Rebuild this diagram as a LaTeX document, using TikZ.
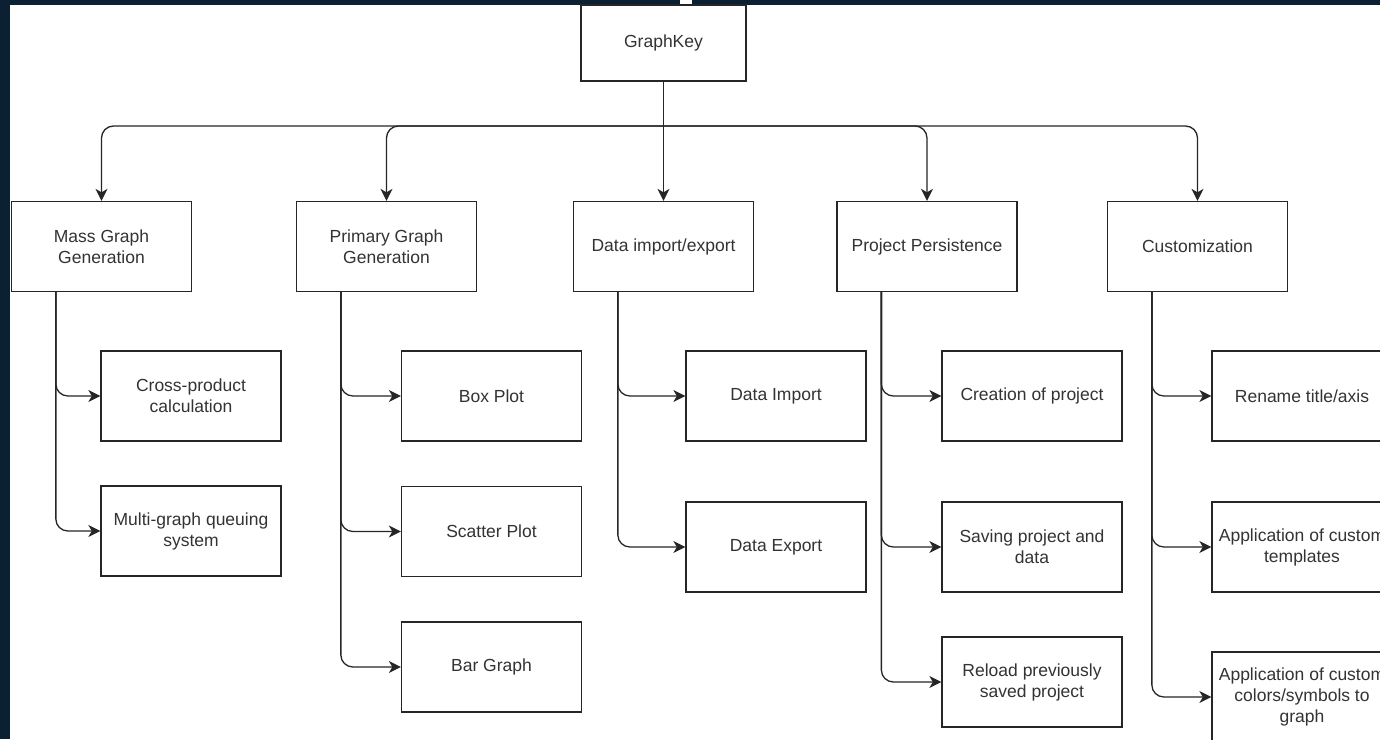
\documentclass[tikz,border=0pt]{standalone}
\usepackage{fontspec}
\setmainfont{Liberation Sans}
\usetikzlibrary{arrows.meta}
\definecolor{navy}{RGB}{11,32,50}
\definecolor{ink}{RGB}{51,51,51}
\tikzset{
	box/.style={draw=black!85, line width=1.3pt, fill=white, minimum width=180pt, minimum height=90pt, inner sep=2pt, align=center, text=ink, font=\fontsize{17.5}{21}\selectfont},
	link/.style={draw=black!85, line width=1.3pt, rounded corners=12pt, -{Stealth[length=12pt,width=12pt,inset=3.5pt]}}
}
\begin{document}
\begin{tikzpicture}[x=1pt,y=-1pt]
		\useasboundingbox (0,0) rectangle (1380,739);
		\fill[navy] (0,0) rectangle (1380,739);
		\fill[white] (10,5) rectangle (1380,739);
		\fill[white] (680,0) rectangle (692,5);
		\clip (0,0) rectangle (1380,739);
		% top level
		\node[box, minimum width=165pt, minimum height=76pt] (key) at (663.5,43) {GraphKey};
		\node[box] (mass) at (101.5,246.5) {Mass Graph\\Generation};
		\node[box] (prim) at (386.5,246.5) {Primary Graph\\Generation};
		\node[box] (data) at (663.5,246.5) {Data import/export};
		\node[box] (proj) at (927,246.5) {Project Persistence};
		\node[box] (cust) at (1197.5,246.5) {Customization};
		\coordinate (hub) at (663.5,126);
		\draw[link] (key.south) -- (data.north);
		\draw[link] (hub) -| (mass.north);
		\draw[link] (hub) -| (prim.north);
		\draw[link] (hub) -| (proj.north);
		\draw[link] (hub) -| (cust.north);
		% second level
		\node[box] (cross) at (191,396) {Cross-product\\calculation};
		\node[box] (queue) at (191,531) {Multi-graph queuing\\system};
		\node[box] (boxplot) at (491.5,396) {Box Plot};
		\node[box] (scatter) at (491.5,531.5) {Scatter Plot};
		\node[box] (bar) at (491.5,667) {Bar Graph};
		\node[box] (dimport) at (776,396) {Data Import};
		\node[box] (dexport) at (776,547) {Data Export};
		\node[box] (create) at (1032,396) {Creation of project};
		\node[box] (save) at (1032,547) {Saving project and\\data};
		\node[box] (reload) at (1032,682) {Reload previously\\saved project};
		\node[box] (rename) at (1302,396) {Rename title/axis};
		\node[box] (templ) at (1302,547) {Application of custom\\templates};
		\node[box] (colors) at (1302,697) {Application of custom\\colors/symbols to\\graph};
		\draw[link] ([xshift=45pt]mass.south west) |- (cross.west);
		\draw[link] ([xshift=45pt]mass.south west) |- (queue.west);
		\draw[link] ([xshift=45pt]prim.south west) |- (boxplot.west);
		\draw[link] ([xshift=45pt]prim.south west) |- (scatter.west);
		\draw[link] ([xshift=45pt]prim.south west) |- (bar.west);
		\draw[link] ([xshift=45pt]data.south west) |- (dimport.west);
		\draw[link] ([xshift=45pt]data.south west) |- (dexport.west);
		\draw[link] ([xshift=45pt]proj.south west) |- (create.west);
		\draw[link] ([xshift=45pt]proj.south west) |- (save.west);
		\draw[link] ([xshift=45pt]proj.south west) |- (reload.west);
		\draw[link] ([xshift=45pt]cust.south west) |- (rename.west);
		\draw[link] ([xshift=45pt]cust.south west) |- (templ.west);
		\draw[link] ([xshift=45pt]cust.south west) |- (colors.west);
\end{tikzpicture}
\end{document}
